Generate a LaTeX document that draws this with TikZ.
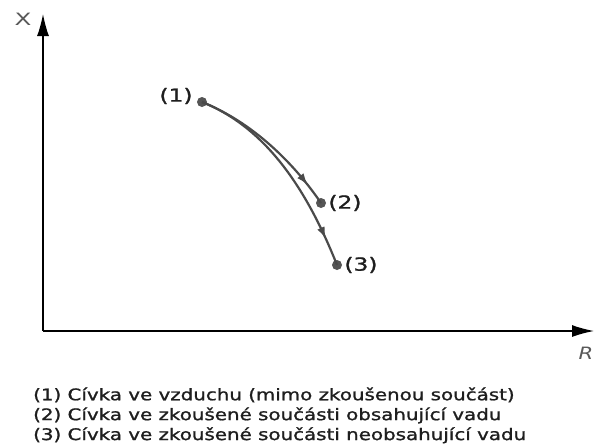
\documentclass[tikz,border=0pt]{standalone}
\usepackage{fontspec}
\setmainfont{DejaVu Sans}
\newfontfamily\heavyfont{DejaVu Sans}[FakeBold=1.1]
\usepackage{xcolor}
\usetikzlibrary{arrows.meta, positioning, decorations.markings}
\definecolor{curvegray}{HTML}{4A4A4A}
\definecolor{dotgray}{HTML}{555555}
\definecolor{textgray}{HTML}{1E1E1E}
\newcommand{\wide}[2][1.24]{\scalebox{#1}[1]{#2}}
\tikzset{
  axis/.style={line width=1.3pt, -{Latex[length=22pt, width=12pt]}},
  dot/.style={circle, fill=dotgray, inner sep=0pt, minimum size=10pt},
  ptlabel/.style={font=\heavyfont\fontsize{18}{20}\selectfont, text=textgray, inner sep=0pt},
  axislabel/.style={font=\fontsize{17}{19}\selectfont, text=black!65, inner sep=0pt},
  legend/.style={font=\heavyfont\fontsize{16}{19}\selectfont, text=textgray, inner sep=0pt,
                 text height=12pt, text depth=3.5pt},
  shift/.style={draw=curvegray, line width=2.2pt, postaction={decorate},
                decoration={markings, mark=at position #1 with {\arrow{Latex[length=12pt, width=8pt]}}}}
}

\begin{document}
\begin{tikzpicture}[x=1pt, y=-1pt]
\useasboundingbox (0,0) rectangle (594,445);

% Axes
\coordinate (O) at (43,331);
\coordinate (ytop) at (43,14);
\coordinate (xend) at (594,331);
\draw[axis] (O) -- (ytop);
\draw[axis] (O) -- (xend);
\node[axislabel] (xlab) at (23,19) {\wide[1.45]{X}};
\node[axislabel, font=\fontsize{17}{19}\selectfont\itshape] (rlab) at (586,353) {\wide{R}};

% Points
\node[dot] (p1) at (202,102) {};
\node[dot] (p2) at (321,203) {};
\node[dot] (p3) at (337,265) {};
\node[ptlabel, left=4pt of p1, yshift=6pt] (l1) {\wide[1.3]{(1)}};
\node[ptlabel, right=2pt of p2] (l2) {\wide[1.3]{(2)}};
\node[ptlabel, right=2pt of p3] (l3) {\wide[1.3]{(3)}};

% Curves
\draw[shift=0.86] (p1.center) .. controls (252,122) and (293,162) .. (p2.center);
\draw[shift=0.87] (p1.center) .. controls (262,126) and (304,182) .. (p3.center);

% Legend
\node[legend, anchor=west] (leg1) at (33,396) {\wide{(1) Cívka ve vzduchu (mimo zkoušenou součást)}};
\node[legend, below=4pt of leg1.south west, anchor=north west] (leg2) {\wide{(2) Cívka ve zkoušené součásti obsahující vadu}};
\node[legend, below=4pt of leg2.south west, anchor=north west] (leg3) {\wide{(3) Cívka ve zkoušené součásti neobsahující vadu}};

\end{tikzpicture}
\end{document}
